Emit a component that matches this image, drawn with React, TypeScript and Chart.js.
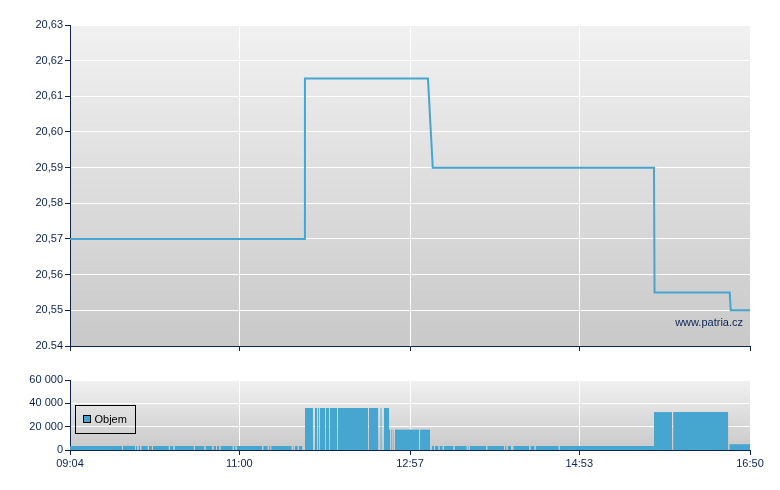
import { useEffect, useRef } from 'react';
import { Chart, registerables } from 'chart.js';

Chart.register(...registerables);

// ---------- data ----------
// time in minutes since midnight
const timeTickValues = [544, 660, 777, 893, 1010];
const timeTickLabels = ['09:04', '11:00', '12:57', '14:53', '16:50'];

const priceTickValues = [20.54, 20.55, 20.56, 20.57, 20.58, 20.59, 20.6, 20.61, 20.62, 20.63];
const priceTickLabels = ['20.54', '20,55', '20,56', '20,57', '20,58', '20,59', '20,60', '20,61', '20,62', '20,63'];

const priceTimes = [544, 704.4, 705.0, 789.3, 792.6, 944.2, 944.6, 996.1, 996.8, 1010];
const priceValues = [20.57, 20.57, 20.615, 20.615, 20.59, 20.59, 20.555, 20.555, 20.55, 20.55];

const volumeTickValues = [0, 20000, 40000, 60000];
const volumeTickLabels = ['0', '20 000', '40 000', '60 000'];

// volume blocks: start, end (minutes), volume
const blockStarts = [544, 705.0, 762.6, 791.9, 944.2, 995.8];
const blockEnds = [703.3, 762.6, 790.7, 944.2, 995.1, 1010];
const blockVolumes = [3500, 36000, 17500, 3500, 32500, 5000];

// empty minutes (gaps) inside the blocks: [start, end]
const volumeGaps: [number, number][] = [
  [579.65, 580.35], [588.55, 589.25], [590.25, 590.95], [592.15, 592.85], [597.35, 598.05],
  [600.15, 600.85], [611.75, 612.45], [614.95, 615.65], [628.85, 629.55], [636.15, 636.85],
  [641.55, 642.25], [644.05, 644.75], [646.45, 647.15], [655.55, 656.25], [657.45, 658.15],
  [675.75, 676.45], [679.55, 680.25], [681.15, 681.85], [695.95, 696.65], [697.35, 698.05],
  [700.15, 700.85],
  [710.5, 711.9], [713.3, 713.8], [714.6, 715.1], [719.0, 719.4], [721.7, 722.2],
  [727.0, 727.5], [748.4, 748.9], [755.3, 756.7], [757.6, 759.2],
  [763.3, 763.8], [764.5, 765.1], [765.8, 766.7], [783.2, 783.9],
  [793.45, 794.15], [796.55, 797.25], [799.45, 800.15], [806.85, 807.55], [815.95, 816.65],
  [817.25, 817.95], [829.25, 829.95], [841.45, 842.15], [843.15, 843.85], [846.35, 847.05],
  [847.25, 847.75], [858.85, 859.55], [862.35, 863.05], [878.95, 879.65],
  [956.6, 957.3],
];

const NAVY = '#0b2455';
const BLUE = '#46a6cf';

function buildVolumePoints() {
  const pts: { x: number; y: number | null }[] = [];
  blockStarts.forEach((s, i) => {
    const e = blockEnds[i];
    const v = blockVolumes[i];
    const gs = volumeGaps.filter((g) => g[0] >= s && g[1] <= e).sort((a, b) => a[0] - b[0]);
    let cur = s;
    for (const [g0, g1] of gs) {
      pts.push({ x: cur, y: v }, { x: g0, y: v }, { x: g0, y: null });
      cur = g1;
    }
    pts.push({ x: cur, y: v }, { x: e, y: v }, { x: e, y: null });
  });
  return pts;
}

const fmtTime = (_v: any, i: number) => timeTickLabels[i] ?? '';

const bgPlugin = {
  id: 'bgGradient',
  beforeDraw(chart: any) {
    const { ctx, chartArea } = chart;
    if (!chartArea) return;
    const g = ctx.createLinearGradient(0, chartArea.top, 0, chartArea.bottom);
    g.addColorStop(0, '#f1f1f1');
    g.addColorStop(1, '#c9c9c9');
    ctx.save();
    ctx.fillStyle = g;
    ctx.fillRect(chartArea.left, chartArea.top, chartArea.right - chartArea.left, chartArea.bottom - chartArea.top);
    ctx.restore();
  },
};

const watermarkPlugin = {
  id: 'watermark',
  afterDatasetsDraw(chart: any) {
    const { ctx, chartArea } = chart;
    ctx.save();
    ctx.font = '11px "Liberation Sans", Arial, sans-serif';
    ctx.fillStyle = NAVY;
    ctx.textAlign = 'right';
    ctx.textBaseline = 'middle';
    ctx.fillText('www.patria.cz', chartArea.right - 7, chartArea.bottom - 23);
    ctx.restore();
  },
};

const legendBoxPlugin = {
  id: 'legendBox',
  afterDatasetsDraw(chart: any) {
    const { ctx, chartArea } = chart;
    const ds = chart.data.datasets[0];
    const x = chartArea.left + 5.5;
    const y = chartArea.top + 25.5;
    ctx.save();
    ctx.strokeStyle = '#000';
    ctx.lineWidth = 1;
    ctx.strokeRect(x, y, 60, 28);
    ctx.fillStyle = ds.backgroundColor;
    ctx.fillRect(x + 8, y + 10, 7, 7);
    ctx.strokeRect(x + 8, y + 10, 7, 7);
    ctx.font = '11px "Liberation Sans", Arial, sans-serif';
    ctx.fillStyle = '#000';
    ctx.textAlign = 'left';
    ctx.textBaseline = 'middle';
    ctx.fillText(ds.label, x + 19, y + 14.5);
    ctx.restore();
  },
};

function xScale(showLabels: boolean, height: number) {
  return {
    type: 'linear' as const,
    min: 544,
    max: 1010,
    afterBuildTicks: (scale: any) => {
      scale.ticks = timeTickValues.map((v) => ({ value: v }));
    },
    afterFit: (scale: any) => {
      scale.height = height;
    },
    ticks: {
      display: showLabels,
      autoSkip: false,
      maxRotation: 0,
      padding: 2,
      color: NAVY,
      font: { size: 11 },
      callback: fmtTime,
    },
    grid: { color: '#ffffff', tickColor: NAVY, tickLength: 5, lineWidth: 1 },
    border: { color: NAVY, width: 1 },
  };
}

export default function App() {
  const topRef = useRef<HTMLCanvasElement>(null);
  const botRef = useRef<HTMLCanvasElement>(null);

  useEffect(() => {
    Chart.defaults.font.family = '"Liberation Sans", Arial, sans-serif';
    Chart.defaults.font.size = 11;
    Chart.defaults.color = NAVY;

    const top = new Chart(topRef.current!, {
      type: 'line',
      data: {
        datasets: [
          {
            label: 'Cena',
            data: priceTimes.map((t, i) => ({ x: t, y: priceValues[i] })),
            borderColor: BLUE,
            borderWidth: 2,
            pointRadius: 0,
            fill: false,
            tension: 0,
          },
        ],
      },
      options: {
        responsive: false,
        maintainAspectRatio: false,
        devicePixelRatio: 1,
        animation: false,
        events: [],
        layout: { padding: { left: 0, right: 30, top: 25, bottom: 0 } },
        plugins: { legend: { display: false }, tooltip: { enabled: false } },
        scales: {
          x: xScale(false, 9),
          y: {
            type: 'linear',
            min: 20.54,
            max: 20.63,
            afterBuildTicks: (scale: any) => {
              scale.ticks = priceTickValues.map((v) => ({ value: v }));
            },
            afterFit: (scale: any) => {
              scale.width = 70;
            },
            ticks: {
              autoSkip: false,
              padding: 2,
              color: NAVY,
              font: { size: 11 },
              callback: (_v: any, i: number) => priceTickLabels[i] ?? '',
            },
            grid: { color: '#ffffff', tickColor: NAVY, tickLength: 5, lineWidth: 1 },
            border: { color: NAVY, width: 1 },
          },
        },
      },
      plugins: [bgPlugin, watermarkPlugin],
    });

    const bot = new Chart(botRef.current!, {
      type: 'line',
      data: {
        datasets: [
          {
            label: 'Objem',
            data: buildVolumePoints(),
            borderWidth: 0,
            borderColor: 'rgba(0,0,0,0)',
            backgroundColor: BLUE,
            pointRadius: 0,
            fill: 'origin',
            spanGaps: false,
            tension: 0,
          },
        ],
      },
      options: {
        responsive: false,
        maintainAspectRatio: false,
        devicePixelRatio: 1,
        animation: false,
        events: [],
        layout: { padding: { left: 0, right: 30, top: 25, bottom: 0 } },
        plugins: { legend: { display: false }, tooltip: { enabled: false } },
        scales: {
          x: xScale(true, 40),
          y: {
            type: 'linear',
            min: 0,
            max: 60000,
            afterBuildTicks: (scale: any) => {
              scale.ticks = volumeTickValues.map((v) => ({ value: v }));
            },
            afterFit: (scale: any) => {
              scale.width = 70;
            },
            ticks: {
              autoSkip: false,
              padding: 2,
              color: NAVY,
              font: { size: 11 },
              callback: (_v: any, i: number) => volumeTickLabels[i] ?? '',
            },
            grid: { color: '#ffffff', tickColor: NAVY, tickLength: 5, lineWidth: 1 },
            border: { color: NAVY, width: 1 },
          },
        },
      },
      plugins: [bgPlugin, legendBoxPlugin],
    });

    return () => {
      top.destroy();
      bot.destroy();
    };
  }, []);

  return (
    <div style={{ position: 'absolute', left: 0, top: 0, width: 780, height: 490, background: '#ffffff' }}>
      <canvas
        ref={topRef}
        width={780}
        height={355}
        style={{ position: 'absolute', left: 0, top: 0, width: 780, height: 355 }}
      />
      <canvas
        ref={botRef}
        width={780}
        height={135}
        style={{ position: 'absolute', left: 0, top: 355, width: 780, height: 135 }}
      />
    </div>
  );
}
